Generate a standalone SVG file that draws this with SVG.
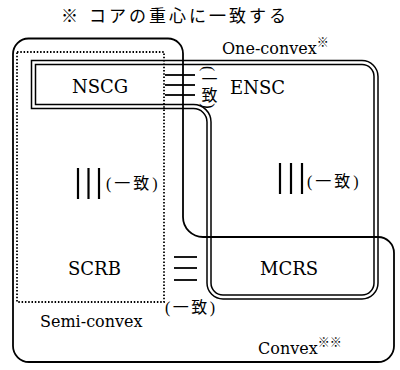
<svg xmlns="http://www.w3.org/2000/svg" width="400" height="370" viewBox="0 0 400 370">
<style>
.lbl{font-family:"DejaVu Serif","Liberation Serif",serif;font-size:18px;fill:#000}
.sm{font-family:"DejaVu Serif","Liberation Serif",serif;font-size:16px;fill:#000}
.jp{font-family:"Liberation Serif","Noto Sans CJK JP",sans-serif;font-size:16px;fill:#000}
.ttl{font-family:"Noto Sans CJK JP",sans-serif;font-size:17px;fill:#000}
.sup{font-family:"Noto Sans CJK JP",sans-serif;font-size:12px;fill:#000}
.bar{stroke:#000;stroke-width:1.8;fill:none}
.vbar{stroke:#000;stroke-width:2.2;fill:none}
.outline{stroke:#000;stroke-width:1.8;fill:none}
</style>
<rect width="400" height="370" fill="#fff"/>
<g id="title">
<text class="ttl" x="61" y="21.5">※</text>
<text class="ttl" x="89" y="21.5" letter-spacing="3">コアの重心に一致する</text>
</g>
<g id="one-convex">
<path d="M33.5,62.5 H362 A14,14 0 0 1 376,76.5 V283 A14,14 0 0 1 362,297 H223 A14,14 0 0 1 209,283 V122 A15.5,15.5 0 0 0 193.5,106.5 H33.5 Z" fill="none" stroke="#000" stroke-width="5.5"/>
<path d="M33.5,62.5 H362 A14,14 0 0 1 376,76.5 V283 A14,14 0 0 1 362,297 H223 A14,14 0 0 1 209,283 V122 A15.5,15.5 0 0 0 193.5,106.5 H33.5 Z" fill="none" stroke="#fff" stroke-width="2.5"/>
<text class="sm" x="222" y="54" font-size="17.5">One-convex<tspan class="sup" dy="-7">※</tspan></text>
</g>
<g id="semi-convex">
<rect x="17" y="52" width="147" height="250" fill="none" stroke="#000" stroke-width="1.8" stroke-dasharray="1.5 1.8"/>
<text class="sm" x="40" y="327">Semi-convex</text>
</g>
<g id="convex">
<path class="outline" d="M13,54 A15.5,15.5 0 0 1 28.5,38.5 H168 A15,15 0 0 1 183,53.5 V217 A20,20 0 0 0 203,237 H378 A16,16 0 0 1 394,253 V346 A16,16 0 0 1 378,362 H29 A16,16 0 0 1 13,346 Z"/>
<text class="sm" x="258" y="354">Convex<tspan class="sup" dy="-7">※※</tspan></text>
</g>
<g id="NSCG"><text class="lbl" x="72" y="93">NSCG</text></g>
<g id="ENSC"><text class="lbl" x="230" y="94">ENSC</text></g>
<g id="SCRB"><text class="lbl" x="68" y="275">SCRB</text></g>
<g id="MCRS"><text class="lbl" x="260" y="275">MCRS</text></g>
<g id="connectors">
<g id="nscg-ensc">
<line class="bar" x1="165" y1="75" x2="195" y2="75"/>
<line class="bar" x1="165" y1="85" x2="195" y2="85"/>
<line class="bar" x1="165" y1="95" x2="195" y2="95"/>
<text class="jp" x="208" y="66" font-size="14" writing-mode="vertical-rl">(一致)</text>
</g>
<g id="nscg-scrb">
<line class="vbar" x1="78" y1="168" x2="78" y2="199"/>
<line class="vbar" x1="88.5" y1="168" x2="88.5" y2="199"/>
<line class="vbar" x1="99" y1="168" x2="99" y2="199"/>
<text class="jp" x="106" y="189" font-size="17" letter-spacing="3">(一致)</text>
</g>
<g id="ensc-mcrs">
<line class="vbar" x1="280" y1="163" x2="280" y2="194"/>
<line class="vbar" x1="291" y1="163" x2="291" y2="194"/>
<line class="vbar" x1="302" y1="163" x2="302" y2="194"/>
<text class="jp" x="307" y="187" font-size="17" letter-spacing="3">(一致)</text>
</g>
<g id="scrb-mcrs">
<line class="bar" x1="174" y1="257" x2="197" y2="257"/>
<line class="bar" x1="174" y1="268" x2="197" y2="268"/>
<line class="bar" x1="174" y1="280" x2="197" y2="280"/>
<text class="jp" x="165" y="313" font-size="17" letter-spacing="2.5">(一致)</text>
</g>
</g>
</svg>
